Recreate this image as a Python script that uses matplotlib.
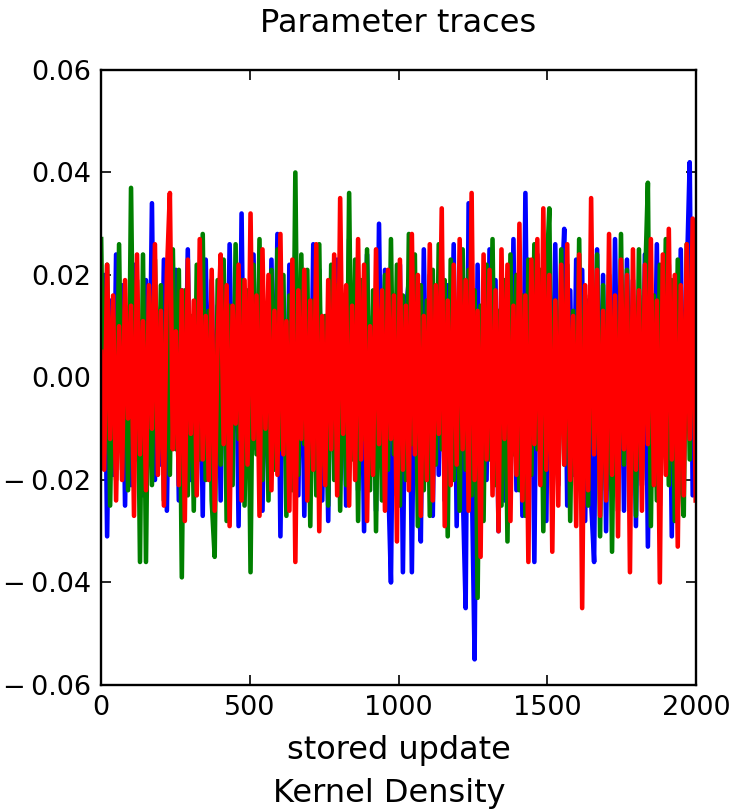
import numpy as np
import matplotlib
matplotlib.use("Agg")
import matplotlib.pyplot as plt

# trace values in units of 1e-3, one sample every ~10 stored updates
blue_trace = [
    -12, 20, -31, 15, -19, 24, -10, 18, -25, 13, -21, 22, -16, 11, -23, 19, -14, 34, -20, 12,
    -17, 23, -26, 14, -11, 21, -24, 17, -13, 25, -20, 10, -22, 16, -27, 23, -9, 19, -18, 14,
    -24, 20, -15, 26, -12, 18, -29, 32, -17, 13, -21, 24, -14, 19, -26, 11, -20, 23, -16, 28,
    -31, 15, -18, 22, -12, 25, -23, 17, -27, 13, -19, 26, -15, 21, -24, 10, -28, 18, -13, 23,
    -20, 16, -25, 27, -11, 19, -22, 14, -30, 24, -17, 12, -26, 30, -15, 21, -18, -40, 16, -23,
    22, -38, 13, 19, -38, 17, -21, -32, 25, -14, 20, -27, 15, -19, 23, -24, 18, -12, 26, -29,
    14, -21, -45, 34, -17, -55, 22, -26, 16, -20, 25, -13, 19, -30, 21, -24, 15, -18, 27, -22,
    13, -27, 36, -16, 20, -36, 24, -12, 18, -28, 22, -15, 26, -21, 14, 29, -25, 17, -19, 23,
    -13, 21, -28, 15, -24, -36, 25, -17, 20, -30, 12, -22, 27, -15, 18, -26, 23, -11, 19, -29,
    16, -21, 24, -33, 13, -18, 26, -25, 20, -14, 22, -31, 17, -20, 25, -16, 19, 42, -23, 21,
]
green_trace = [
    27, -15, 22, -25, 12, -20, 26, -18, 14, -22, 37, -13, 19, -36, 24, -36, 16, -21, 23, -11,
    18, -24, 15, -19, 25, -14, 21, -39, 17, -23, 12, -26, 22, -16, 28, -20, 13, -24, -35, 19,
    -17, 23, -28, 14, -21, 26, -12, 19, -25, 17, -38, 22, -15, 27, -20, 13, -24, 21, -18, 25,
    -14, 20, -27, 16, -22, 40, -19, 24, -13, 21, -29, 15, -23, 26, -17, 12, -25, 22, -20, 18,
    -26, 14, -21, 36, -16, 23, -28, 19, -12, 25, -22, 17, -30, 13, -24, 20, -18, 27, -15, 22,
    -25, 16, -20, 28, -13, 24, -29, 18, -22, 15, -27, 21, -17, 26, -14, 19, -31, 23, -20, 12,
    -26, 25, -18, 21, -23, 17, -43, 14, -28, 22, -16, 27, -21, 13, -25, 19, -32, 24, -15, 20,
    -22, 16, -27, 23, -19, 26, -14, 21, -30, 18, 33, -24, 15, -20, 25, -17, 22, -28, 13, -21,
    27, -19, 16, -25, 22, -14, 24, -31, 18, -22, 20, -34, 15, -26, 28, -17, 21, -23, 14, -27,
    25, -20, 17, 38, -29, 16, -24, 22, -15, 27, -21, 19, -28, 23, -18, -27, 26, -16, 20, -12,
]
red_trace = [
    5, -18, 22, -12, 16, -24, 10, -20, 19, -8, 14, -27, 24, -15, 11, -22, 18, -10, 26, -19,
    13, -25, 20, 36, -14, 9, -21, 17, -28, 23, -11, 15, -23, 27, -16, 12, -20, 21, -26, 8,
    24, -13, 18, -29, 14, -9, 22, -24, 19, -17, 32, -12, 16, -27, 25, -10, 20, -22, 13, -19,
    28, -15, 11, -26, 23, -36, 17, -12, 21, -24, 15, -18, 26, -30, 12, -21, 19, -14, 24, -23,
    35, -11, 18, -25, 14, -20, 27, -16, 22, -28, 10, -19, 25, -13, 17, -26, 21, -12, 16, -32,
    23, -18, 14, -22, 28, -15, 20, -27, 12, -20, 26, -24, 18, -11, 33, -29, 15, -21, 22, -17,
    27, -14, 19, -26, 36, -20, 13, -35, 24, -16, 21, -23, 17, -30, 25, -12, 22, -28, 14, -19,
    30, -24, 16, -36, 23, -13, 27, -21, 33, -18, 20, -34, 15, -25, 22, -17, 26, -20, 12, -29,
    24, -45, 18, -22, 35, -15, 21, -27, 13, -24, 28, -19, 16, -31, 23, -14, 20, -38, 25, -18,
    17, -26, 22, -13, 27, -21, 15, -40, 24, -19, 29, -16, 20, -33, 18, -23, 26, -12, 31, -24,
]
n_updates = 2000
x_ticks = [0, 500, 1000, 1500, 2000]
y_ticks = [-0.06, -0.04, -0.02, 0.00, 0.02, 0.04, 0.06]
y_tick_labels = ["\u2212\u20090.06", "\u2212\u20090.04", "\u2212\u20090.02",
                 "0.00", "0.02", "0.04", "0.06"]

fig = plt.figure(figsize=(7.33, 8.09), dpi=100)
ax = fig.add_axes([0.138, 0.1533, 0.8115, 0.7602])

for trace, color in [(blue_trace, "b"), (green_trace, "g"), (red_trace, "r")]:
    vals = np.array(trace) * 1e-3
    steps = np.linspace(0, n_updates - 1, len(vals))
    ax.plot(steps, vals, color=color, linewidth=3.3)

ax.set_xlim(0, n_updates)
ax.set_ylim(-0.06, 0.06)
ax.set_xticks(x_ticks)
ax.set_yticks(y_ticks)
ax.set_yticklabels(y_tick_labels)
ax.tick_params(direction="in", top=True, right=True, length=7, width=1.2,
               labelsize=19.5, pad=7)
for sp in ax.spines.values():
    sp.set_linewidth(1.7)

ax.set_title("Parameter traces", fontsize=23, pad=27)
ax.set_xlabel("stored update", fontsize=23, labelpad=10)
fig.text(0.531, 0.019, "Kernel Density", fontsize=23, ha="center", va="center")

fig.savefig("out.png", dpi=100)
